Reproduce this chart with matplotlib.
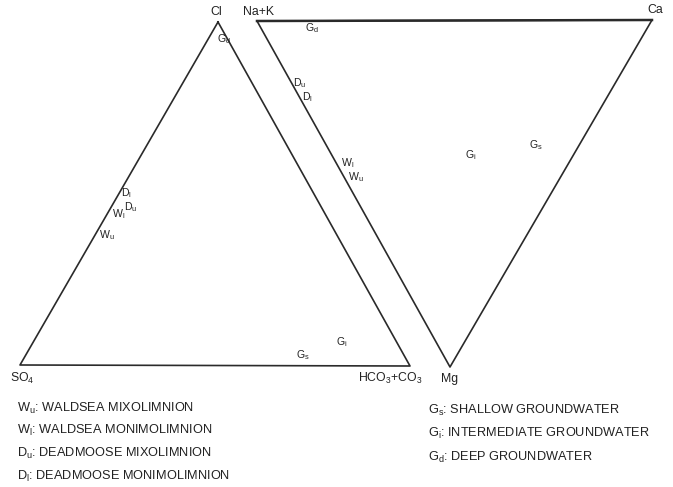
import matplotlib
matplotlib.use("Agg")
import matplotlib.pyplot as plt

plt.rcParams['font.family'] = ['Liberation Sans', 'DejaVu Sans']
plt.rcParams['mathtext.fontset'] = 'custom'
plt.rcParams['mathtext.rm'] = 'Liberation Sans'

# sample codes and compositions in percent
anion_codes = [('G', 'd'), ('D', 'l'), ('D', 'u'), ('W', 'l'), ('W', 'u'), ('G', 's'), ('G', 'i')]
cl = [95, 50, 46, 44, 38, 3, 7]
so4 = [1, 48, 49, 53, 59, 26, 14]
hco3 = [4, 2, 5, 3, 3, 71, 79]

cation_codes = [('G', 'd'), ('D', 'u'), ('D', 'l'), ('W', 'l'), ('W', 'u'), ('G', 'i'), ('G', 's')]
nak = [85, 80, 76, 56, 52, 26, 11]
ca = [13, 2, 2, 3, 3, 35, 53]
mg = [2, 18, 22, 41, 45, 39, 36]

legend_left = [('W', 'u', 'WALDSEA MIXOLIMNION'),
               ('W', 'l', 'WALDSEA MONIMOLIMNION'),
               ('D', 'u', 'DEADMOOSE MIXOLIMNION'),
               ('D', 'l', 'DEADMOOSE MONIMOLIMNION')]
legend_right = [('G', 's', 'SHALLOW GROUNDWATER'),
                ('G', 'i', 'INTERMEDIATE GROUNDWATER'),
                ('G', 'd', 'DEEP GROUNDWATER')]


def to_xy(corners, fracs):
    # barycentric -> canvas position
    tot = sum(fracs)
    x = sum(f * c[0] for f, c in zip(fracs, corners)) / tot
    y = sum(f * c[1] for f, c in zip(fracs, corners)) / tot
    return x, y


def code(big, small):
    return big + '$_\\mathregular{' + small + '}$'


fig = plt.figure(figsize=(6.73, 4.87), dpi=100)
ax = fig.add_axes([0, 0, 1, 1])
ax.set_xlim(0, 673)
ax.set_ylim(487, 0)
ax.axis('off')

lc = '#2a2a2a'
tc = '#222222'
# anion triangle: Cl top, SO4 left, HCO3+CO3 right
tri_a = [(218, 22), (20, 365), (410, 366)]
ax.plot([p[0] for p in tri_a + tri_a[:1]], [p[1] for p in tri_a + tri_a[:1]], color=lc, lw=1.2)
# cation triangle: Na+K left, Ca right, Mg bottom
tri_c = [(257, 21), (652, 20), (450, 367)]
ax.plot([p[0] for p in tri_c + tri_c[:1]], [p[1] for p in tri_c + tri_c[:1]], color=lc, lw=1.2)
ax.plot([tri_c[0][0], tri_c[1][0]], [tri_c[0][1], tri_c[1][1]], color=lc, lw=1.8)

fs = 7.6
for (b, s), a1, a2, a3 in zip(anion_codes, cl, so4, hco3):
    x, y = to_xy(tri_a, (a1, a2, a3))
    ax.text(x, y, code(b, s), fontsize=fs, ha='center', va='center', color=tc)
for (b, s), c1, c2, c3 in zip(cation_codes, nak, ca, mg):
    x, y = to_xy(tri_c, (c1, c2, c3))
    ax.text(x, y, code(b, s), fontsize=fs, ha='center', va='center', color=tc)

vfs = 8.8
ax.text(216, 12, 'Cl', fontsize=vfs, ha='center', va='center', color=tc)
ax.text(259, 12, 'Na+K', fontsize=vfs, ha='center', va='center', color=tc)
ax.text(655, 10, 'Ca', fontsize=vfs, ha='center', va='center', color=tc)
ax.text(22, 378, 'SO$_\\mathregular{4}$', fontsize=vfs, ha='center', va='center', color=tc)
ax.text(390, 378, 'HCO$_\\mathregular{3}$+CO$_\\mathregular{3}$', fontsize=vfs, ha='center', va='center', color=tc)
ax.text(450, 379, 'Mg', fontsize=vfs, ha='center', va='center', color=tc)

lfs = 9.2
for i, (b, s, t) in enumerate(legend_left):
    ax.text(17, 408 + i * 22.8, code(b, s) + ': ' + t, fontsize=lfs, ha='left', va='center', color=tc)
for i, (b, s, t) in enumerate(legend_right):
    ax.text(428, 410 + i * 23.5, code(b, s) + ': ' + t, fontsize=lfs, ha='left', va='center', color=tc)

fig.savefig('out.png', dpi=100)
